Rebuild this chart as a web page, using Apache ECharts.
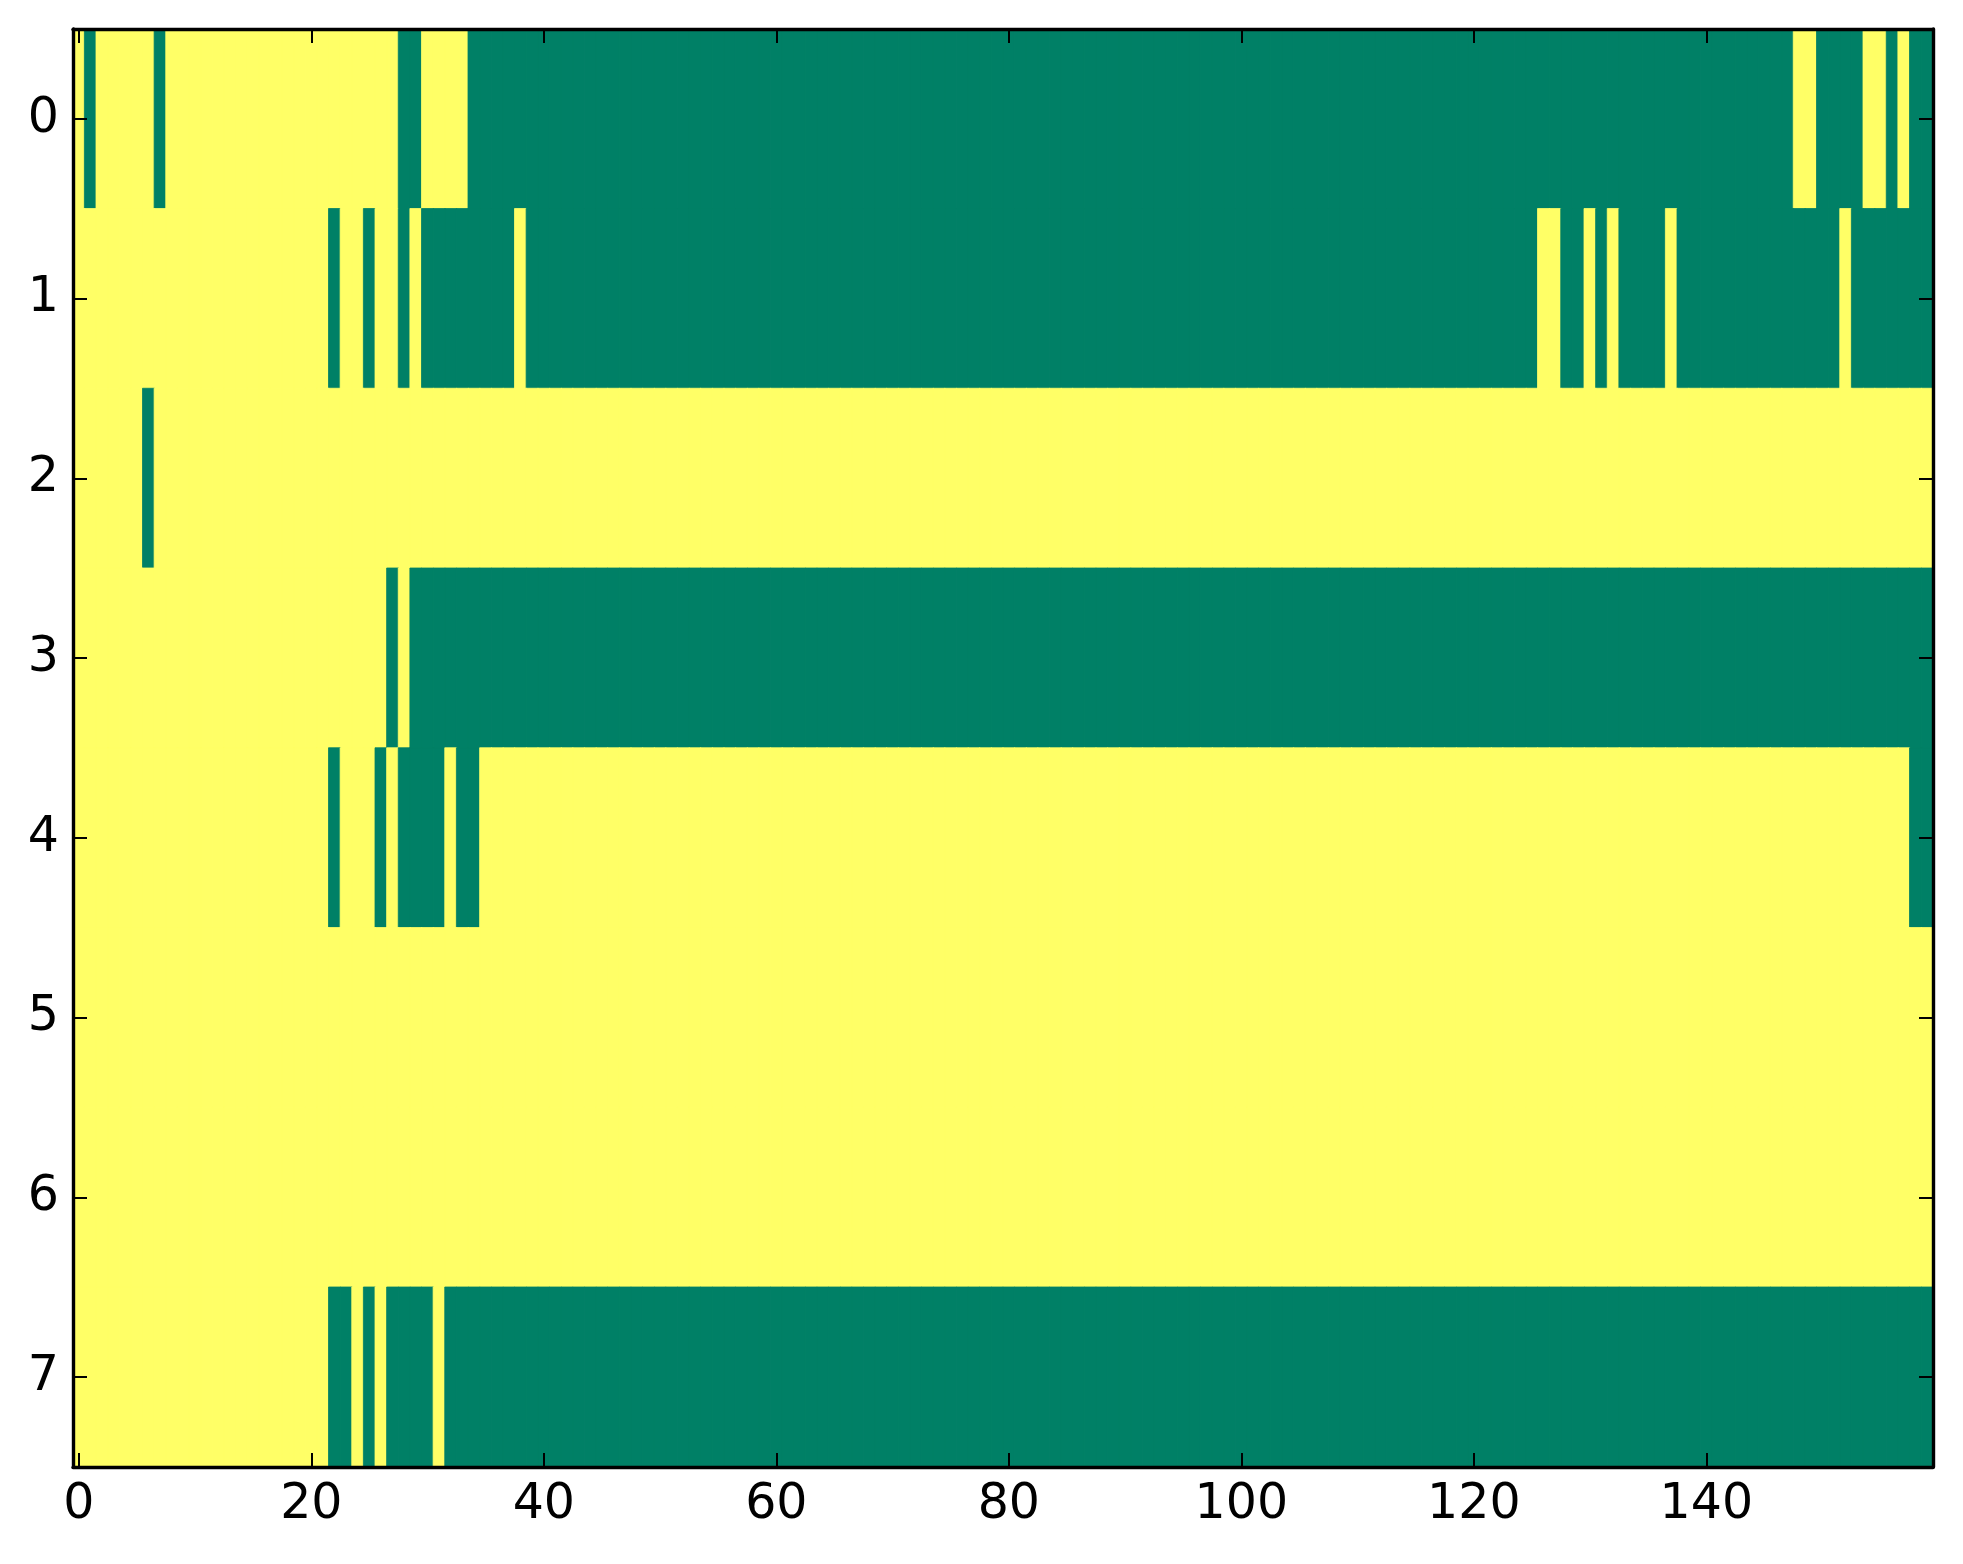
<!DOCTYPE html>
<html>
<head>
<meta charset="utf-8">
<script src="https://cdn.jsdelivr.net/npm/echarts@6/dist/echarts.min.js"></script>
<style>
  html, body { margin: 0; padding: 0; background: #ffffff; }
  #chart { width: 1963px; height: 1564px; }
</style>
</head>
<body>
<div id="chart"></div>
<script>
// Binary matrix: 1 = yellow, 0 = green (8 rows x 160 columns)
var row0 = "1011111011 1111111111 1111111100 1111000000 0000000000 0000000000 0000000000 0000000000 0000000000 0000000000 0000000000 0000000000 0000000000 0000000000 0000000011 0000110100";
var row1 = "1111111111 1111111111 1101101101 0000000010 0000000000 0000000000 0000000000 0000000000 0000000000 0000000000 0000000000 0000000000 0000001100 1010000100 0000000000 0010000000";
var row2 = "1111110111 1111111111 1111111111 1111111111 1111111111 1111111111 1111111111 1111111111 1111111111 1111111111 1111111111 1111111111 1111111111 1111111111 1111111111 1111111111";
var row3 = "1111111111 1111111111 1111111010 0000000000 0000000000 0000000000 0000000000 0000000000 0000000000 0000000000 0000000000 0000000000 0000000000 0000000000 0000000000 0000000000";
var row4 = "1111111111 1111111111 1101110100 0010011111 1111111111 1111111111 1111111111 1111111111 1111111111 1111111111 1111111111 1111111111 1111111111 1111111111 1111111111 1111111100";
var row5 = "1111111111 1111111111 1111111111 1111111111 1111111111 1111111111 1111111111 1111111111 1111111111 1111111111 1111111111 1111111111 1111111111 1111111111 1111111111 1111111111";
var row6 = "1111111111 1111111111 1111111111 1111111111 1111111111 1111111111 1111111111 1111111111 1111111111 1111111111 1111111111 1111111111 1111111111 1111111111 1111111111 1111111111";
var row7 = "1111111111 1111111111 1100101000 0100000000 0000000000 0000000000 0000000000 0000000000 0000000000 0000000000 0000000000 0000000000 0000000000 0000000000 0000000000 0000000000";

var rows = [row0, row1, row2, row3, row4, row5, row6, row7];
var yLabels = ["0", "1", "2", "3", "4", "5", "6", "7"];
var xTickValues = [0, 20, 40, 60, 80, 100, 120, 140];
var colorScale = ["#008066", "#ffff66"]; // summer colormap: 0 -> green, 1 -> yellow

var matrix = rows.map(function (s) { return s.replace(/\s+/g, "").split("").map(Number); });
var nCols = matrix[0].length;
var xCats = [];
for (var i = 0; i < nCols; i++) xCats.push(String(i));

var data = [];
matrix.forEach(function (r, y) {
  r.forEach(function (v, x) {
    var c = colorScale[v];
    data.push({ value: [x, y, v], itemStyle: { color: c, borderColor: c, borderWidth: 0.8 } });
  });
});

function isTick(idx) { return xTickValues.indexOf(idx) >= 0; }

var FONT = "DejaVu Sans";
var FS = 49;
var lineStyle = { color: "#000000", width: 3.4 };
var tickStyle = { color: "#000000", width: 2 };

var chart = echarts.init(document.getElementById("chart"), null, { renderer: "canvas" });
chart.setOption({
  backgroundColor: "#ffffff",
  animation: false,
  grid: { left: 73, right: 30, top: 29, bottom: 97, containLabel: false },
  xAxis: [
    {
      type: "category", data: xCats, position: "bottom", boundaryGap: true, z: 10,
      axisLine: { show: true, lineStyle: lineStyle },
      axisTick: { show: true, inside: true, alignWithLabel: true, length: 14,
                  interval: function (idx) { return isTick(idx); }, lineStyle: tickStyle },
      axisLabel: { show: true, interval: function (idx) { return isTick(idx); },
                   fontFamily: FONT, fontSize: FS, color: "#000000", margin: 14 },
      splitLine: { show: false }
    },
    {
      type: "category", data: xCats, position: "top", boundaryGap: true, z: 10,
      axisLine: { show: true, lineStyle: lineStyle },
      axisTick: { show: true, inside: true, alignWithLabel: true, length: 14,
                  interval: function (idx) { return isTick(idx); }, lineStyle: tickStyle },
      axisLabel: { show: false },
      splitLine: { show: false }
    }
  ],
  yAxis: [
    {
      type: "category", data: yLabels, inverse: true, position: "left", z: 10,
      axisLine: { show: true, lineStyle: lineStyle },
      axisTick: { show: true, inside: true, alignWithLabel: true, length: 14, interval: 0, lineStyle: tickStyle },
      axisLabel: { show: true, interval: 0, fontFamily: FONT, fontSize: FS, color: "#000000", margin: 14 },
      splitLine: { show: false }
    },
    {
      type: "category", data: yLabels, inverse: true, position: "right", z: 10,
      axisLine: { show: true, lineStyle: lineStyle },
      axisTick: { show: true, inside: true, alignWithLabel: true, length: 14, interval: 0, lineStyle: tickStyle },
      axisLabel: { show: false },
      splitLine: { show: false }
    }
  ],
  series: [{
    type: "heatmap", xAxisIndex: 0, yAxisIndex: 0, data: data,
    progressive: 0,
    emphasis: { disabled: true }
  }]
});
</script>
</body>
</html>
